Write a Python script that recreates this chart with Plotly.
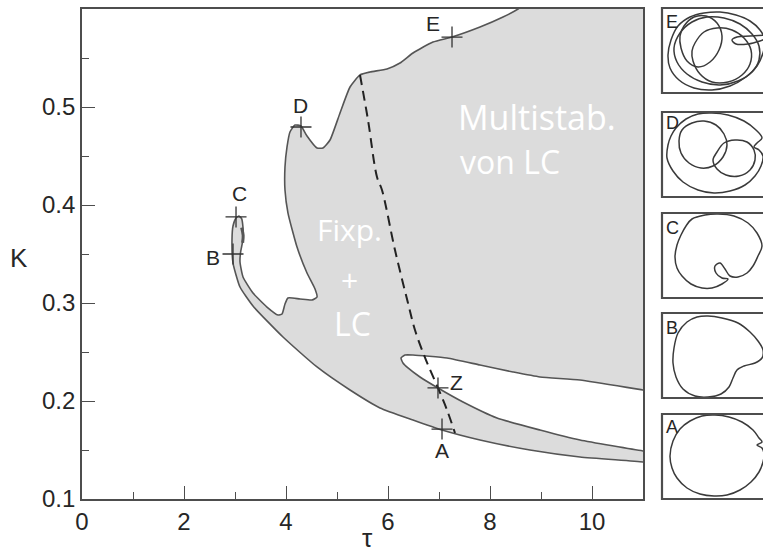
import plotly.graph_objects as go

# ---- main bifurcation diagram (tau, K) ----
# closed boundary of the shaded region (goes outside the frame on the right/top, clipped)
bound_tau = [11.3, 11.0, 9.765, 8.784, 7.804, 7.059, 6.490, 5.843, 5.255, 4.608, 3.941,
             3.353, 3.098, 2.961, 2.941, 2.961, 3.020, 3.078, 3.130, 3.155, 3.160, 3.140,
             3.110, 3.098, 3.157, 3.353, 3.627, 3.843, 3.922, 3.980, 4.039, 4.275, 4.510,
             4.608, 4.569, 4.412, 4.216, 4.039, 3.980, 3.980, 4.020, 4.078, 4.176, 4.294,
             4.412, 4.608, 4.725, 4.863, 5.059, 5.255, 5.451, 5.647, 5.980, 6.235, 6.490,
             6.882, 7.255, 7.804, 8.255, 8.549, 8.780, 11.3, 11.3,
             11.0, 9.765, 8.980, 8.451, 7.804, 7.157, 6.490, 6.333, 6.255, 6.294, 6.392,
             6.627, 6.980, 7.471, 8.137, 8.980, 9.765, 11.0, 11.3]
bound_K = [0.1355, 0.1378, 0.1429, 0.1500, 0.1602, 0.1704, 0.1806, 0.1929, 0.2112, 0.2347, 0.2653,
           0.2969, 0.3163, 0.3408, 0.3643, 0.3786, 0.3867, 0.3888, 0.3860, 0.3780, 0.3680, 0.3600,
           0.3520, 0.3418, 0.3265, 0.3102, 0.2959, 0.2878, 0.2888, 0.2990, 0.3051, 0.3041, 0.3031,
           0.3061, 0.3143, 0.3306, 0.3571, 0.3918, 0.4153, 0.4388, 0.4592, 0.4745, 0.4816, 0.4806,
           0.4704, 0.4582, 0.4582, 0.4663, 0.4939, 0.5204, 0.5327, 0.5357, 0.5388, 0.5449, 0.5551,
           0.5663, 0.5714, 0.5816, 0.5918, 0.6000, 0.6090, 0.6300, 0.2090,
           0.2112, 0.2214, 0.2245, 0.2296, 0.2367, 0.2439, 0.2469, 0.2469, 0.2439, 0.2388, 0.2337,
           0.2245, 0.2133, 0.1990, 0.1827, 0.1704, 0.1602, 0.1490, 0.1470]

# small spiral at the tip of the tongue
spiral_tau = [3.13, 3.16, 3.15]
spiral_K = [0.3770, 0.3690, 0.3615]

# dashed separation line
dash_tau = [5.451, 5.608, 5.784, 5.882, 6.137, 6.392, 6.529, 6.745, 6.980, 7.157, 7.314]
dash_K = [0.5327, 0.4867, 0.4286, 0.4153, 0.3540, 0.3000, 0.2724, 0.2418, 0.2133, 0.1908, 0.1673]

# labelled parameter points
pt_names = ["A", "B", "C", "D", "E", "Z"]
pt_tau = [7.059, 2.961, 3.020, 4.294, 7.255, 6.980]
pt_K = [0.1714, 0.3500, 0.3878, 0.4796, 0.5714, 0.2133]
lbl_tau = [7.06, 2.57, 3.08, 4.29, 6.88, 7.35]
lbl_K = [0.150, 0.346, 0.412, 0.502, 0.585, 0.219]

x_ticks = [0, 2, 4, 6, 8, 10]
y_ticks = [0.1, 0.2, 0.3, 0.4, 0.5]
y_ticktext = ["0.1", "0.2", "0.3", "0.4", "0.5"]

# ---- phase-space sketches of the limit cycles (panel units) ----
loop_A = [[(8, 42), (11, 27), (18, 15), (28, 7), (40, 2), (53, 1), (67, 3), (80, 8), (91, 16),
           (97, 24), (100, 28), (95, 31), (100, 34), (102, 40), (101, 48), (97, 58), (89, 68),
           (78, 76), (65, 81), (52, 82), (38, 80), (25, 74), (15, 64), (10, 54), (8, 42)]]
loop_B = [[(16, 20), (25, 9), (35, 4), (46, 3), (60, 5), (76, 10), (88, 19), (96, 28), (101, 37),
           (100, 45), (93, 50), (82, 53), (75, 57), (71, 65), (67, 74), (59, 81), (46, 84),
           (33, 83), (21, 76), (14, 64), (11, 50), (12, 35), (16, 20)]]
loop_C = [[(30, 6), (43, 2), (56, 1), (72, 3), (86, 10), (95, 20), (100, 33), (96, 43), (91, 53),
           (85, 60), (76, 64), (68, 63), (63, 56), (58, 50), (53, 53), (54, 60), (60, 65),
           (66, 66), (60, 71), (50, 75), (40, 75), (29, 71), (20, 63), (15, 55), (13, 44),
           (15, 32), (19, 22), (24, 13), (30, 6)]]
loop_D = [[(14, 16), (24, 7), (36, 2), (50, 1), (66, 3), (82, 9), (94, 18), (100, 26), (95, 31),
           (92, 35), (97, 38), (101, 44), (99, 54), (93, 64), (83, 73), (68, 79), (52, 81),
           (36, 78), (21, 70), (11, 59), (5, 46), (6, 33), (9, 24), (14, 16)],
          [(20, 18), (30, 11), (42, 9), (54, 13), (62, 22), (65, 33), (61, 45), (51, 54),
           (39, 56), (27, 51), (19, 41), (17, 29), (20, 18)],
          [(55, 40), (62, 31), (73, 28), (85, 30), (92, 38), (93, 48), (88, 58), (77, 64),
           (64, 63), (55, 57), (51, 48), (55, 40)]]
loop_E = [[(16, 18), (28, 9), (42, 5), (58, 4), (74, 7), (88, 13), (98, 22), (103, 32), (101, 45),
           (95, 58), (84, 69), (68, 78), (50, 82), (32, 80), (17, 72), (8, 60), (6, 47), (9, 32),
           (16, 18)],
          [(12, 40), (18, 25), (30, 14), (45, 9), (62, 10), (78, 16), (90, 26), (97, 38), (97, 52),
           (90, 64), (76, 73), (58, 77), (40, 74), (25, 66), (15, 54), (12, 40)],
          [(22, 18), (32, 9), (44, 8), (55, 15), (60, 28), (57, 42), (48, 54), (36, 59), (25, 53),
           (19, 40), (18, 28), (22, 18)],
          [(33, 35), (42, 24), (55, 20), (70, 22), (82, 30), (89, 42), (88, 56), (80, 67), (66, 74),
           (50, 74), (38, 66), (31, 53), (30, 43), (33, 35)],
          [(103, 27), (88, 28), (75, 29), (70, 32), (74, 36), (86, 36), (98, 33), (103, 31)]]

panel_names = ["E", "D", "C", "B", "A"]
panel_loops = [loop_E, loop_D, loop_C, loop_B, loop_A]
panel_top_px = [8, 112, 213, 313, 414]
panel_label_y = [14, 11, 15, 15, 13]

W, H = 763, 554
PANEL_H = 85
PANEL_LEFT = 662
PLOT_L, PLOT_R, PLOT_T, PLOT_B = 82, 643, 9, 499

FRAME = "#4d4d4d"
INK = "#262626"
FONT = "Liberation Sans, Arial, Helvetica, sans-serif"

fig = go.Figure()

fig.add_trace(go.Scatter(
    x=bound_tau, y=bound_K, mode="lines", fill="toself", fillcolor="#dcdcdc",
    line=dict(color="#555555", width=1.6, shape="spline", smoothing=0.5),
    hoverinfo="skip", showlegend=False))

fig.add_trace(go.Scatter(
    x=spiral_tau, y=spiral_K, mode="lines",
    line=dict(color="#555555", width=3, shape="spline"),
    hoverinfo="skip", showlegend=False))

fig.add_trace(go.Scatter(
    x=dash_tau, y=dash_K, mode="lines",
    line=dict(color="#222222", width=2, dash="10px,6px", shape="spline"),
    hoverinfo="skip", showlegend=False))

fig.add_trace(go.Scatter(
    x=pt_tau, y=pt_K, mode="markers",
    marker=dict(symbol="cross-thin", size=15, line=dict(color="#333333", width=1.3)),
    hoverinfo="skip", showlegend=False))

annotations = []
for name, tx, ty in zip(pt_names, lbl_tau, lbl_K):
    annotations.append(dict(x=tx, y=ty, xref="x", yref="y", text=name, showarrow=False,
                            xanchor="center", yanchor="middle",
                            font=dict(family=FONT, size=21, color=INK)))

# handwritten notes in the shaded region
notes = [("Multistab.", 8.92, 0.490, 34), ("von LC", 8.39, 0.444, 32),
         ("Fixp.", 5.24, 0.3745, 30), ("+", 5.25, 0.3235, 30), ("LC", 5.31, 0.2790, 32)]
for txt, tx, ty, sz in notes:
    annotations.append(dict(x=tx, y=ty, xref="x", yref="y", text=txt, showarrow=False,
                            xanchor="center", yanchor="middle",
                            font=dict(family="Open Sans, sans-serif", size=sz, color="white")))

annotations.append(dict(x=19 / W, y=1 - 258 / H, xref="paper", yref="paper", text="K",
                        xanchor="center", yanchor="middle",
                        showarrow=False, font=dict(family=FONT, size=26, color=INK)))
annotations.append(dict(x=367 / W, y=1 - 538 / H, xref="paper", yref="paper", text="τ",
                        xanchor="center", yanchor="middle",
                        showarrow=False, font=dict(family=FONT, size=26, color=INK)))

shapes = []
layout_axes = {}
for i, (name, loops, top, ly) in enumerate(zip(panel_names, panel_loops, panel_top_px, panel_label_y)):
    k = i + 2
    y0 = 1 - (top + PANEL_H) / H
    y1 = 1 - top / H
    layout_axes[f"xaxis{k}"] = dict(domain=[PANEL_LEFT / W, 1.0], range=[0, W - PANEL_LEFT],
                                    visible=False, fixedrange=True, automargin=False)
    layout_axes[f"yaxis{k}"] = dict(domain=[y0, y1], range=[PANEL_H, 0], visible=False,
                                    fixedrange=True, automargin=False)
    xs, ys = [], []
    for loop in loops:
        xs += [p[0] for p in loop] + [None]
        ys += [p[1] for p in loop] + [None]
    fig.add_trace(go.Scatter(x=xs, y=ys, mode="lines", xaxis=f"x{k}", yaxis=f"y{k}",
                             line=dict(color="#3a3a3a", width=1.5, shape="spline", smoothing=1.0),
                             connectgaps=False, hoverinfo="skip", showlegend=False))
    shapes.append(dict(type="rect", xref="paper", yref="paper", x0=PANEL_LEFT / W, x1=1.2,
                       y0=y0, y1=y1, line=dict(color=FRAME, width=2.2)))
    annotations.append(dict(x=10, y=ly, xref=f"x{k}", yref=f"y{k}", text=name, showarrow=False,
                            xanchor="center", yanchor="middle",
                            font=dict(family=FONT, size=18, color=INK)))

fig.update_layout(
    width=W, height=H,
    margin=dict(l=0, r=0, t=0, b=0),
    paper_bgcolor="white", plot_bgcolor="white",
    showlegend=False,
    font=dict(family=FONT, color=INK),
    xaxis=dict(domain=[PLOT_L / W, PLOT_R / W], range=[0, 11], automargin=False,
               tickmode="array", tickvals=x_ticks, ticks="inside", ticklen=13,
               tickwidth=1.3, tickcolor=FRAME, showgrid=False, zeroline=False,
               showline=True, linecolor=FRAME, linewidth=1.6, mirror=True,
               tickfont=dict(size=24, color=INK),
               minor=dict(ticks="inside", ticklen=7, tickwidth=1.2, tickcolor=FRAME,
                          tickmode="array", tickvals=[1, 3, 5, 7, 9], showgrid=False)),
    yaxis=dict(domain=[1 - PLOT_B / H, 1 - PLOT_T / H], range=[0.1, 0.6], automargin=False,
               tickmode="array", tickvals=y_ticks, ticktext=y_ticktext,
               ticks="inside", ticklen=13, tickwidth=1.3, tickcolor=FRAME, showgrid=False,
               zeroline=False, showline=True, linecolor=FRAME, linewidth=1.6, mirror=True,
               tickfont=dict(size=24, color=INK),
               minor=dict(ticks="inside", ticklen=7, tickwidth=1.2, tickcolor=FRAME,
                          tickmode="array", tickvals=[0.15, 0.25, 0.35, 0.45, 0.55],
                          showgrid=False)),
    shapes=shapes,
    annotations=annotations,
    **layout_axes,
)

fig.write_html("out.html")
